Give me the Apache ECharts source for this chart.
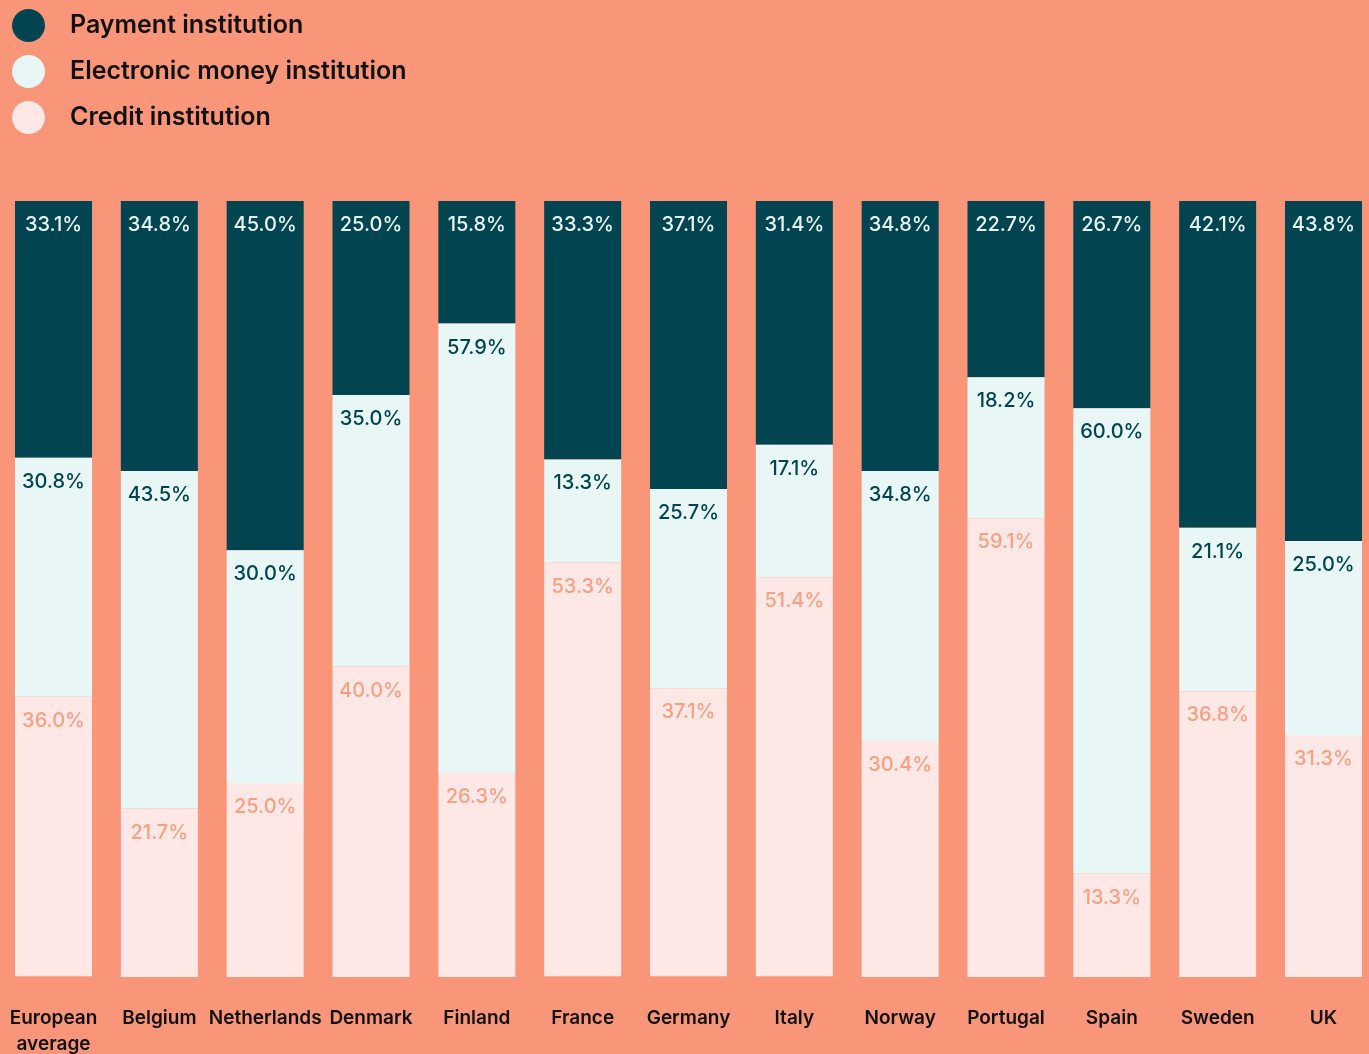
<!DOCTYPE html>
<html>
<head>
<meta charset="utf-8">
<script src="https://cdn.jsdelivr.net/npm/echarts@6/dist/echarts.min.js"></script>
<style>
html,body{margin:0;padding:0;background:#F9967A;}
#chart{width:1369px;height:1054px;}
</style>
</head>
<body>
<div id="chart"></div>
<script>
const categories = ['European\naverage','Belgium','Netherlands','Denmark','Finland','France','Germany','Italy','Norway','Portugal','Spain','Sweden','UK'];
const paymentInstitution = [33.1,34.8,45.0,25.0,15.8,33.3,37.1,31.4,34.8,22.7,26.7,42.1,43.8];
const electronicMoney = [30.8,43.5,30.0,35.0,57.9,13.3,25.7,17.1,34.8,18.2,60.0,21.1,25.0];
const creditInstitution = [36.0,21.7,25.0,40.0,26.3,53.3,37.1,51.4,30.4,59.1,13.3,36.8,31.3];

const FONT = 'Inter, "Noto Sans", sans-serif';
const chart = echarts.init(document.getElementById('chart'), null, {renderer:'canvas'});
function lbl(color){
  return {show:true, position:'insideTop', distance:14, color:color, fontFamily:FONT, fontSize:20, fontWeight:500,
    formatter:p=>p.value.toFixed(1)+'%'};
}
chart.setOption({
  backgroundColor:'#F9967A',
  animation:false,
  legend:{
    orient:'vertical', left:7, top:4, icon:'circle', itemWidth:33, itemHeight:33, itemGap:13,
    textStyle:{color:'#111', fontFamily:FONT, fontSize:25, fontWeight:600, padding:[0,0,0,20]},
    data:['Payment institution','Electronic money institution','Credit institution']
  },
  grid:{left:0.6, top:201, width:1375.8, height:776, outerBoundsMode:'none', containLabel:false},
  xAxis:{type:'category', data:categories,
    axisLine:{show:false}, axisTick:{show:false},
    axisLabel:{color:'#111', fontFamily:FONT, fontSize:19, fontWeight:600, margin:28, lineHeight:26, interval:0}},
  yAxis:{type:'value', min:0, max:100, inverse:true, show:false, splitLine:{show:false}},
  series:[
    {name:'Payment institution', type:'bar', stack:'t', barWidth:77, data:paymentInstitution,
      itemStyle:{color:'#02444F'}, label:lbl('#E6F4F4')},
    {name:'Electronic money institution', type:'bar', stack:'t', barWidth:77, data:electronicMoney,
      itemStyle:{color:'#E8F6F5'}, label:lbl('#02444F')},
    {name:'Credit institution', type:'bar', stack:'t', barWidth:77, data:creditInstitution,
      itemStyle:{color:'#FDE8E6'}, label:lbl('#F7A084')}
  ]
});
</script>
</body>
</html>
